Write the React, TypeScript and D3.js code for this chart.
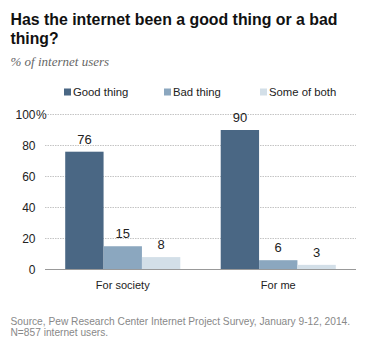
import React from "react";
import * as d3 from "d3";

const categories = ["For society", "For me"];
const seriesNames = ["Good thing", "Bad thing", "Some of both"];
const goodThing = [76, 90];
const badThing = [15, 6];
const someOfBoth = [8, 3];
const yTicks = [0, 20, 40, 60, 80, 100];
const colors = ["#4a6784", "#8ba7bf", "#d3dfe8"];

const W = 387;
const H = 343;
const sans = "'Liberation Sans', Arial, sans-serif";

export default function App() {
  const series = [goodThing, badThing, someOfBoth];
  const y = d3.scaleLinear().domain([0, 100]).range([269.5, 114.5]);
  const x0 = d3
    .scaleBand<string>()
    .domain(categories)
    .range([45, 356])
    .paddingInner(0.26)
    .paddingOuter(0.13);
  const x1 = d3
    .scaleBand<string>()
    .domain(seriesNames)
    .range([0, x0.bandwidth()]);

  const legendX = [64, 164, 260];

  return (
    <svg
      width={W}
      height={H}
      style={{ position: "absolute", left: 0, top: 0, background: "#fff" }}
    >
      <text
        x={10.5}
        y={25}
        fontFamily={sans}
        fontWeight="bold"
        fontSize={17}
        fill="#111"
        textLength={327}
        lengthAdjust="spacingAndGlyphs"
      >
        Has the internet been a good thing or a bad
      </text>
      <text
        x={10.5}
        y={44}
        fontFamily={sans}
        fontWeight="bold"
        fontSize={17}
        fill="#111"
        textLength={48}
        lengthAdjust="spacingAndGlyphs"
      >
        thing?
      </text>
      <text
        x={10.5}
        y={66}
        fontFamily="'Liberation Serif', 'Times New Roman', serif"
        fontStyle="italic"
        fontSize={13}
        fill="#666"
      >
        % of internet users
      </text>

      {seriesNames.map((s, i) => (
        <g key={s}>
          <rect x={legendX[i]} y={88.5} width={7} height={7} fill={colors[i]} />
          <text
            x={legendX[i] + 9}
            y={96}
            fontFamily={sans}
            fontSize={11.3}
            fill="#222"
          >
            {s}
          </text>
        </g>
      ))}

      {yTicks.map((t) => (
        <g key={t}>
          {t > 0 && (
            <line
              x1={45}
              x2={356}
              y1={y(t)}
              y2={y(t)}
              stroke="#b5b5b5"
              strokeWidth={0.8}
              strokeDasharray="1.5,1"
            />
          )}
          <text
            x={35.5}
            y={y(t) + 4.5}
            textAnchor="end"
            fontFamily={sans}
            fontSize={12}
            fill="#222"
          >
            {t}
          </text>
          {t === 100 && (
            <text
              x={36}
              y={y(t) + 4.5}
              fontFamily={sans}
              fontSize={12}
              fill="#222"
            >
              %
            </text>
          )}
        </g>
      ))}

      {categories.map((c, ci) => (
        <g key={c} transform={`translate(${x0(c)},0)`}>
          {seriesNames.map((s, si) => {
            const v = series[si][ci];
            return (
              <g key={s}>
                <rect
                  x={x1(s)}
                  y={y(v)}
                  width={x1.bandwidth()}
                  height={y(0) - y(v)}
                  fill={colors[si]}
                />
                <text
                  x={(x1(s) as number) + x1.bandwidth() / 2}
                  y={y(v) - 8}
                  textAnchor="middle"
                  fontFamily={sans}
                  fontSize={13}
                  fill="#222"
                >
                  {v}
                </text>
              </g>
            );
          })}
          <text
            x={x0.bandwidth() / 2}
            y={289}
            textAnchor="middle"
            fontFamily={sans}
            fontSize={11}
            fill="#222"
          >
            {c}
          </text>
        </g>
      ))}

      <line x1={45} x2={356} y1={y(0)} y2={y(0)} stroke="#999" strokeWidth={1} />

      <text x={10.5} y={325} fontFamily={sans} fontSize={10.2} fill="#888">
        Source, Pew Research Center Internet Project Survey, January 9-12, 2014.
      </text>
      <text x={10.5} y={336} fontFamily={sans} fontSize={10.2} fill="#888">
        N=857 internet users.
      </text>
    </svg>
  );
}
